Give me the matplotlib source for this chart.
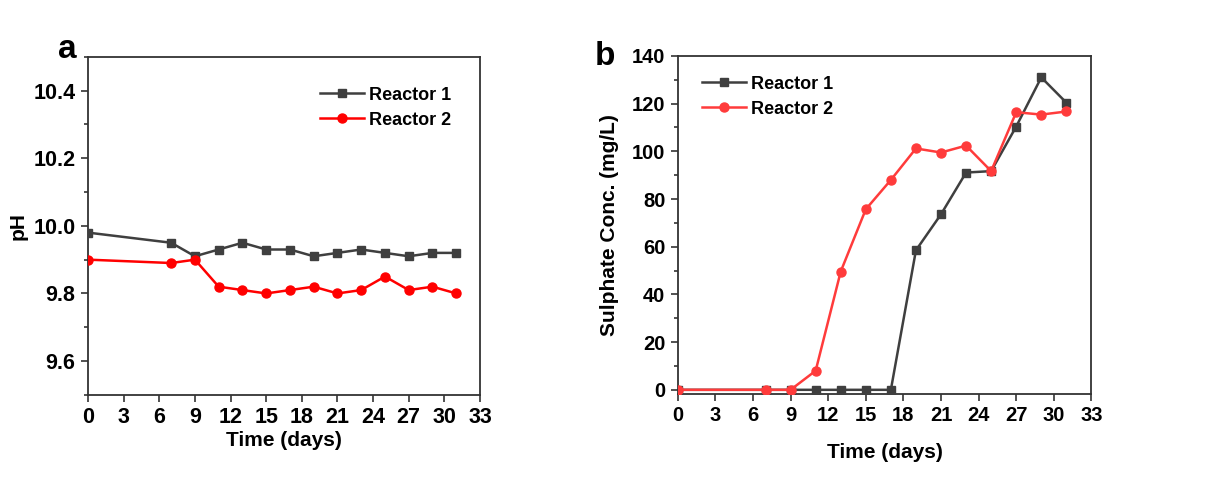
import matplotlib.pyplot as plt
from matplotlib.ticker import MultipleLocator

plt.rcParams["font.family"] = ["Liberation Sans", "DejaVu Sans"]
plt.rcParams["font.weight"] = "bold"

# --- dados ---
dias = [0, 7, 9, 11, 13, 15, 17, 19, 21, 23, 25, 27, 29, 31]
ph_r1 = [9.98, 9.95, 9.91, 9.93, 9.95, 9.93, 9.93, 9.91, 9.92, 9.93, 9.92, 9.91, 9.92, 9.92]
ph_r2 = [9.90, 9.89, 9.90, 9.82, 9.81, 9.80, 9.81, 9.82, 9.80, 9.81, 9.85, 9.81, 9.82, 9.80]
sulf_r1 = [0, 0, 0, 0, 0, 0, 0, 58.5, 73.6, 91.1, 91.7, 110.4, 131.0, 120.4]
sulf_r2 = [0, 0, 0, 8.0, 49.6, 75.7, 88.0, 101.2, 99.5, 102.4, 91.7, 116.4, 115.4, 116.7]
xticks = list(range(0, 34, 3))

COR_R1 = "#3f3f3f"
COR_SPINE = "#333333"

fig = plt.figure(figsize=(12.06, 4.78), dpi=100)
ax1 = fig.add_axes([0.073, 0.174, 0.325, 0.707])
ax2 = fig.add_axes([0.562, 0.176, 0.343, 0.707])


def estilo(ax, tamanho):
    for s in ax.spines.values():
        s.set_color(COR_SPINE)
        s.set_linewidth(1.3)
    ax.tick_params(which="both", direction="out", top=False, right=False,
                   color=COR_SPINE, width=1.2)
    ax.tick_params(which="major", length=5, labelsize=tamanho, pad=4)
    ax.tick_params(which="minor", length=3)
    ax.set_xlim(0, 33)
    ax.set_xticks(xticks)
    for lb in ax.get_xticklabels() + ax.get_yticklabels():
        lb.set_fontweight("bold")


# --- painel a ---
ax1.plot(dias, ph_r1, "-s", color=COR_R1, lw=1.8, ms=6, label="Reactor 1", zorder=3)
ax1.plot(dias, ph_r2, "-o", color="#ff0000", lw=1.8, ms=6.5, label="Reactor 2", zorder=3)
ax1.set_ylim(9.5, 10.5)
ax1.set_yticks([9.6, 9.8, 10.0, 10.2, 10.4])
ax1.yaxis.set_minor_locator(MultipleLocator(0.1))
estilo(ax1, 15.5)
ax1.set_xlabel("Time (days)", fontsize=15, fontweight="bold", labelpad=2)
ax1.set_ylabel("pH", fontsize=15, fontweight="bold", labelpad=4)
ax1.legend(loc="upper right", bbox_to_anchor=(0.968, 0.96), frameon=False,
           handlelength=2.4, handletextpad=0.3, labelspacing=0.45,
           prop={"weight": "bold", "size": 13})
fig.text(0.048, 0.879, "a", fontsize=24, fontweight="bold")

# --- painel b ---
ax2.plot(dias, sulf_r1, "-s", color=COR_R1, lw=1.8, ms=6, label="Reactor 1", zorder=3)
ax2.plot(dias, sulf_r2, "-o", color="#ff3b3b", lw=1.8, ms=6.5, label="Reactor 2", zorder=4)
ax2.set_ylim(-1.7, 140)
ax2.set_yticks(range(0, 141, 20))
ax2.yaxis.set_minor_locator(MultipleLocator(10))
estilo(ax2, 14.5)
ax2.set_xlabel("Time (days)", fontsize=15, fontweight="bold", labelpad=13)
ax2.set_ylabel("Sulphate Conc. (mg/L)", fontsize=15, fontweight="bold", labelpad=9)
ax2.legend(loc="upper left", bbox_to_anchor=(0.02, 0.99), frameon=False,
           handlelength=2.4, handletextpad=0.3, labelspacing=0.45,
           prop={"weight": "bold", "size": 13})
fig.text(0.493, 0.864, "b", fontsize=24, fontweight="bold")

fig.savefig("out.png", dpi=100, facecolor="white")
